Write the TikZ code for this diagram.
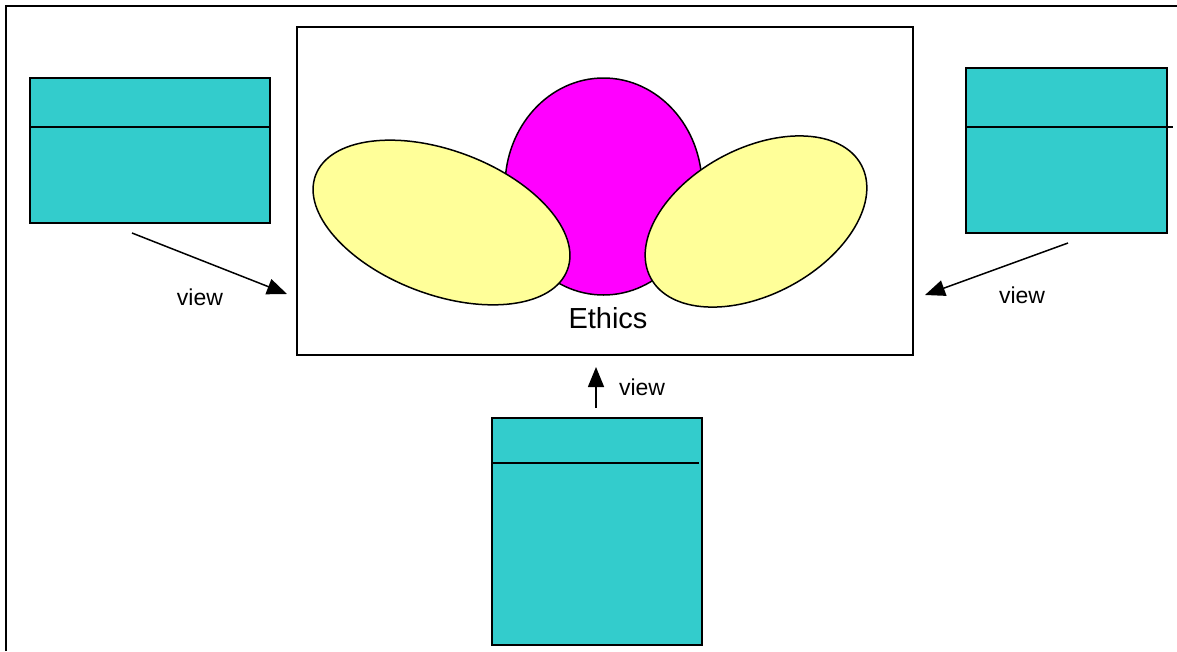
\documentclass[tikz,border=0pt]{standalone}
\usepackage{xcolor}
\usepackage{fontspec}
\setmainfont{Liberation Sans}
\usepackage{tikz}
\usetikzlibrary{shapes,arrows.meta,positioning}

\definecolor{tablecyan}{HTML}{33CCCC}
\definecolor{ethicsmagenta}{HTML}{FF00FF}
\definecolor{petalyellow}{HTML}{FFFF99}

\begin{document}
\begin{tikzpicture}[
    x=1pt, y=-1pt,
    tablebox/.style={draw, line width=2pt, fill=tablecyan, inner sep=0pt},
    petal/.style={ellipse, draw, line width=1.5pt, fill=petalyellow, inner sep=0pt},
    viewarrow/.style={-{Triangle[length=20pt,width=16pt]}, line width=1.5pt},
    viewtext/.style={anchor=base, font=\fontsize{23}{27}\selectfont}
]
                \useasboundingbox (0,0) rectangle (1177,651);

                % outer frame (only left and top show)
                \draw[
                    line width=2pt
                    ] (6,651) -- (6,6) -- (1177,6);

                % ethics frame
                \node[
                    draw,
                    line width=1.5pt,
                    minimum width=616pt,
                    minimum height=328pt,
                    inner sep=0pt
                    ] (frame) at (605,191) {};

                \node[
                    ellipse,
                    draw,
                    line width=1.5pt,
                    fill=ethicsmagenta,
                    minimum width=197pt,
                    minimum height=217pt,
                    inner sep=0pt
                    ] (core) at (603.5,186.5) {};

                \node[
                    petal,
                    minimum width=269pt,
                    minimum height=144pt,
                    rotate=-20.6
                    ] (leftpetal) at (441.5,222.5) {};

                \node[
                    petal,
                    minimum width=239pt,
                    minimum height=146pt,
                    rotate=28.2
                    ] (rightpetal) at (756,221.5) {};

                \node[
                    anchor=base,
                    font=\fontsize{29}{34}\selectfont
                    ] (ethics) at (608,328) {Ethics};

                % the three tables
                \node[
                    tablebox,
                    minimum width=240pt,
                    minimum height=145pt
                    ] (lefttable) at (150,150.5) {};
                \draw[line width=2pt] (lefttable.west |- 0,127) -- (lefttable.east |- 0,127);

                \node[
                    tablebox,
                    minimum width=201pt,
                    minimum height=165pt
                    ] (righttable) at (1066.5,150.5) {};
                \draw[line width=2pt] (righttable.west |- 0,127) -- (1173,127);

                \node[
                    tablebox,
                    minimum width=210pt,
                    minimum height=227pt
                    ] (bottomtable) at (597,531.5) {};
                \draw[line width=2pt] (bottomtable.west |- 0,463) -- (699,463);

                % view arrows
                \coordinate (lefttail) at (132,233);
                \coordinate (lefthead) at (287,294);
                \coordinate (righttail) at (1068,243);
                \coordinate (righthead) at (925,295);
                \coordinate (bottomtail) at (596,408);
                \coordinate (bottomhead) at (596,367);

                \draw[viewarrow] (lefttail) to (lefthead);
                \draw[viewarrow] (righttail) to (righthead);
                \draw[viewarrow] (bottomtail) to (bottomhead);

                \node[viewtext] (leftview) at (200,305) {view};
                \node[viewtext] (rightview) at (1022,303) {view};
                \node[viewtext] (bottomview) at (642,395) {view};

\end{tikzpicture}
\end{document}
